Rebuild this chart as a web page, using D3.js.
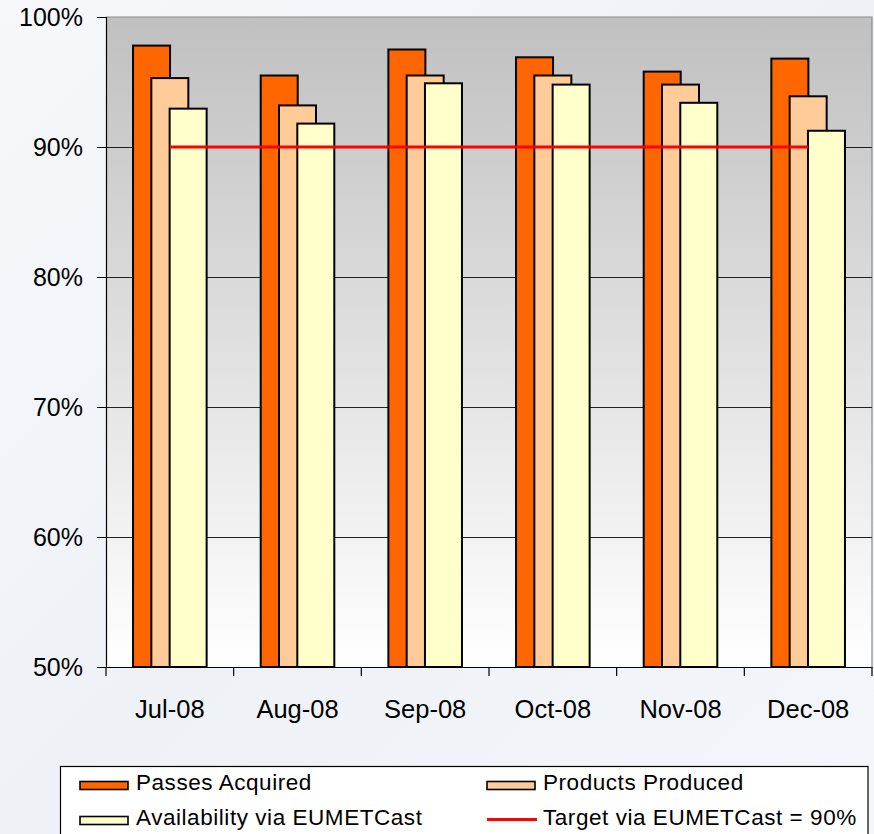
<!DOCTYPE html>
<html><head><meta charset="utf-8">
<script src="https://cdn.jsdelivr.net/npm/d3@7"></script>
<style>
html,body{margin:0;padding:0;}
body{width:874px;height:834px;overflow:hidden;background:#f2f5f9;}
text{font-family:"Liberation Sans",Arial,sans-serif;fill:#000;}
</style></head>
<body>
<svg id="c" width="874" height="834"></svg>
<script>
const categories = ["Jul-08","Aug-08","Sep-08","Oct-08","Nov-08","Dec-08"];
const seriesNames = ["Passes Acquired","Products Produced","Availability via EUMETCast"];
const passesAcquired = [97.8, 95.5, 97.5, 96.9, 95.8, 96.8];
const productsProduced = [95.3, 93.2, 95.5, 95.5, 94.8, 93.9];
const availability = [92.95, 91.8, 94.9, 94.8, 93.4, 91.25];
const targetName = "Target via EUMETCast = 90%";
const targetValue = 90;
const yTicks = [50, 60, 70, 80, 90, 100];
const colors = ["#ff6600", "#ffcc99", "#ffffcc"];

const svg = d3.select("#c");
const defs = svg.append("defs");
const bgGrad = defs.append("linearGradient").attr("id","bg").attr("x1",0).attr("y1",0).attr("x2",1).attr("y2",1);
bgGrad.append("stop").attr("offset","0%").attr("stop-color","#f6f8fb");
bgGrad.append("stop").attr("offset","50%").attr("stop-color","#eef2f7");
bgGrad.append("stop").attr("offset","100%").attr("stop-color","#f3f6fa");
svg.append("rect").attr("width",874).attr("height",834).attr("fill","url(#bg)");

const plotGrad = defs.append("linearGradient").attr("id","pg").attr("x1",0).attr("y1",0).attr("x2",0).attr("y2",1);
plotGrad.append("stop").attr("offset","0%").attr("stop-color","#c0c0c0");
plotGrad.append("stop").attr("offset","100%").attr("stop-color","#ffffff");

const L = 106, R = 872, T = 17, B = 667;
const x = d3.scaleBand().domain(categories).range([L, R]).padding(0);
const y = d3.scaleLinear().domain([50, 100]).range([B, T]);

// plot background
svg.append("rect").attr("x",L).attr("y",T).attr("width",R-L).attr("height",B-T).attr("fill","url(#pg)");
// top/right border
svg.append("path").attr("d",`M${L},${T}H${R}V${B}`).attr("fill","none").attr("stroke","#8a8a8a").attr("stroke-width",1.2);

// gridlines
svg.append("g").selectAll("line").data(yTicks.filter(t=>t>50 && t<100)).join("line")
  .attr("x1",L).attr("x2",R).attr("y1",d=>Math.round(y(d))+0.5).attr("y2",d=>Math.round(y(d))+0.5)
  .attr("stroke","#202020").attr("stroke-width",1);

// y axis
const yAxis = d3.axisLeft(y).tickValues(yTicks).tickFormat(d=>d+"%").tickSize(9).tickPadding(14);
const gy = svg.append("g").attr("transform",`translate(${L},0)`).call(yAxis);
gy.select(".domain").attr("stroke","#000").attr("stroke-width",1.2);
gy.selectAll(".tick line").attr("stroke","#000");
gy.selectAll("text").attr("font-size",25).attr("font-family","Liberation Sans, Arial, sans-serif").attr("fill","#000");

// bars
const barW = 37, step = 18.3;
const data = [passesAcquired, productsProduced, availability];
data.forEach((vals, si) => {
  svg.append("g").selectAll("rect").data(vals).join("rect")
    .attr("x",(d,i)=> x(categories[i]) + x.bandwidth()/2 - (barW + 2*step)/2 + si*step)
    .attr("y",d=>y(d))
    .attr("width",barW)
    .attr("height",d=>y(50)-y(d))
    .attr("fill",colors[si]).attr("stroke","#000").attr("stroke-width",2);
});

// x axis
const xAxis = d3.axisBottom(x).tickSize(0).tickPadding(0);
const gx = svg.append("g").attr("transform",`translate(0,${B})`).call(xAxis);
gx.select(".domain").attr("stroke","#000").attr("stroke-width",1.2);
gx.selectAll(".tick text").attr("font-size",25.5).attr("y",51).attr("dy",null).attr("font-family","Liberation Sans, Arial, sans-serif").attr("fill","#000");
// category boundary ticks
const bounds = categories.map(c=>x(c)).concat([R]);
svg.append("g").selectAll("line").data(bounds).join("line")
  .attr("x1",d=>d).attr("x2",d=>d).attr("y1",B).attr("y2",B+9).attr("stroke","#000").attr("stroke-width",1.2);

// target line
svg.append("line")
  .attr("x1",x(categories[0])+x.bandwidth()/2).attr("x2",x(categories[categories.length-1])+x.bandwidth()/2)
  .attr("y1",y(targetValue)).attr("y2",y(targetValue))
  .attr("stroke","#ff0000").attr("stroke-width",3.2);

// legend
const lg = svg.append("g");
lg.append("rect").attr("x",60.5).attr("y",766.5).attr("width",807.5).attr("height",90).attr("fill","#fff").attr("stroke","#000").attr("stroke-width",1.2);
const items = [
  {name: seriesNames[0], type:"rect", color: colors[0], x:80, y:790},
  {name: seriesNames[1], type:"rect", color: colors[1], x:487, y:790},
  {name: seriesNames[2], type:"rect", color: colors[2], x:80, y:825},
  {name: targetName, type:"line", color:"#ff0000", x:487, y:825}
];
items.forEach(it=>{
  if (it.type==="rect") {
    lg.append("rect").attr("x",it.x).attr("y",it.y-8.5).attr("width",48).attr("height",8).attr("fill",it.color).attr("stroke","#000").attr("stroke-width",1.6);
  } else {
    lg.append("line").attr("x1",it.x).attr("x2",it.x+50).attr("y1",it.y-5.5).attr("y2",it.y-5.5).attr("stroke",it.color).attr("stroke-width",3);
  }
  lg.append("text").attr("x",it.x+56).attr("y",it.y).attr("font-size",22.5).attr("letter-spacing",0.55).text(it.name);
});
</script>
</body></html>
